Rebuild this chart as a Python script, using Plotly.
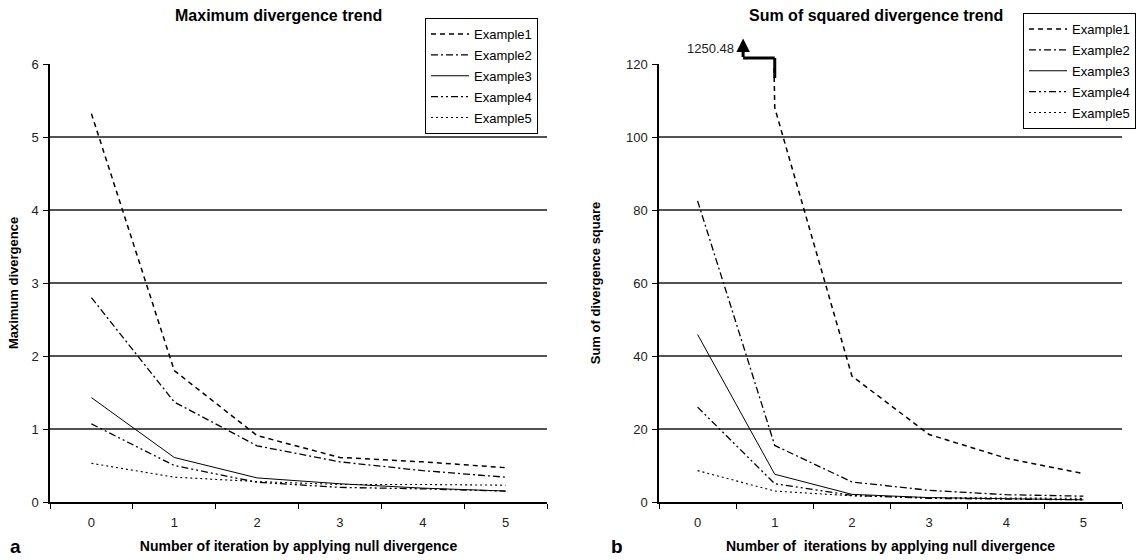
import plotly.graph_objects as go

W, H = 1142, 560

iterations = ["0", "1", "2", "3", "4", "5"]
series_names = ["Example1", "Example2", "Example3", "Example4", "Example5"]

# Panel a: maximum divergence
max_div_ex1 = [5.32, 1.80, 0.91, 0.61, 0.55, 0.47]
max_div_ex2 = [2.80, 1.37, 0.77, 0.55, 0.43, 0.34]
max_div_ex3 = [1.43, 0.61, 0.33, 0.25, 0.19, 0.15]
max_div_ex4 = [1.07, 0.50, 0.27, 0.20, 0.18, 0.15]
max_div_ex5 = [0.53, 0.34, 0.28, 0.24, 0.24, 0.23]

# Panel b: sum of squared divergence
sum_sq_ex1 = [1250.48, 108.0, 34.5, 18.5, 12.0, 7.8]
sum_sq_ex2 = [82.5, 15.5, 5.5, 3.2, 2.0, 1.6]
sum_sq_ex3 = [45.9, 7.6, 2.1, 1.2, 0.9, 0.6]
sum_sq_ex4 = [26.0, 5.0, 1.8, 1.0, 0.8, 0.6]
sum_sq_ex5 = [8.6, 3.0, 1.7, 1.2, 1.1, 1.0]

left_ticks = [0, 1, 2, 3, 4, 5, 6]
left_grid = [1, 2, 3, 4, 5]
right_ticks = [0, 20, 40, 60, 80, 100, 120]
right_grid = [20, 40, 60, 80, 100]

dash_styles = ["5px,4px", "7px,3px,2px,3px", "solid", "7px,3px,2px,3px,2px,3px", "2px,3px"]
line_widths = [1.5, 1.3, 1.0, 1.3, 1.1]

FONT = "Liberation Sans, Arial, sans-serif"

fig = go.Figure()

left_series = [max_div_ex1, max_div_ex2, max_div_ex3, max_div_ex4, max_div_ex5]
right_series = [sum_sq_ex1, sum_sq_ex2, sum_sq_ex3, sum_sq_ex4, sum_sq_ex5]

for i, (name, vals) in enumerate(zip(series_names, left_series)):
    fig.add_trace(go.Scatter(
        x=iterations, y=vals, name=name, mode="lines",
        line=dict(color="black", width=line_widths[i], dash=dash_styles[i]),
        xaxis="x", yaxis="y", legend="legend", legendgroup="a" + name,
    ))
for i, (name, vals) in enumerate(zip(series_names, right_series)):
    fig.add_trace(go.Scatter(
        x=iterations, y=vals, name=name, mode="lines",
        line=dict(color="black", width=line_widths[i], dash=dash_styles[i]),
        xaxis="x2", yaxis="y2", legend="legend2", legendgroup="b" + name,
    ))

xdom1 = [50 / W, 547 / W]
xdom2 = [659 / W, 1122 / W]
ydom = [58 / H, 496 / H]

common_x = dict(
    type="category", showline=True, linecolor="black", linewidth=1.5,
    ticks="outside", tickson="boundaries", ticklen=5, tickcolor="black",
    showgrid=False, zeroline=False, range=[-0.5, 5.5], ticklabelstandoff=8,
    tickfont=dict(family=FONT, size=13, color="#222"),
    title_font=dict(family=FONT, size=14, color="black"),
    title_standoff=12, automargin=False,
)
common_y = dict(
    showline=True, linecolor="black", linewidth=1.5,
    ticks="outside", ticklen=5, tickcolor="black",
    showgrid=False, zeroline=False, ticklabelstandoff=2,
    tickfont=dict(family=FONT, size=13, color="#222"),
    title_font=dict(family=FONT, size=13, color="black"), automargin=False,
)

legend_style = dict(xanchor="left", yanchor="top", bordercolor="black", borderwidth=1,
                    bgcolor="white", font=dict(family=FONT, size=13, color="black"),
                    tracegroupgap=1, itemwidth=38)

fig.update_layout(
    width=W, height=H,
    margin=dict(l=0, r=0, t=0, b=0),
    paper_bgcolor="white", plot_bgcolor="white",
    font=dict(family=FONT, color="black"),
    xaxis=dict(common_x, domain=xdom1, anchor="y",
               title_text="<b>Number of iteration by applying null divergence</b>"),
    yaxis=dict(common_y, domain=ydom, anchor="x", range=[0, 6], tickvals=left_ticks,
               title_text="<b>Maximum divergence</b>", title_standoff=10),
    xaxis2=dict(common_x, domain=xdom2, anchor="y2",
                title_text="<b>Number of  iterations by applying null divergence</b>"),
    yaxis2=dict(common_y, domain=ydom, anchor="x2", range=[0, 120], tickvals=right_ticks,
                title_text="<b>Sum of divergence square</b>", title_standoff=22),
    legend=dict(legend_style, x=425 / W, y=1 - 18 / H),
    legend2=dict(legend_style, x=1023 / W, y=1 - 13 / H),
    showlegend=True,
)

shapes = []
for v in left_grid:
    shapes.append(dict(type="line", xref="x domain", yref="y", x0=0, x1=1, y0=v, y1=v,
                       line=dict(color="#1a1a1a", width=1.3), layer="below"))
for v in right_grid:
    shapes.append(dict(type="line", xref="x2 domain", yref="y2", x0=0, x1=1, y0=v, y1=v,
                       line=dict(color="#1a1a1a", width=1.3), layer="below"))
# bracket pointing to the off-scale value
shapes.append(dict(type="line", xref="x2", yref="y2 domain", x0=1, x1=1, y0=0.968, y1=1.0137,
                   line=dict(color="black", width=3)))
shapes.append(dict(type="line", xref="x2", yref="y2 domain", x0=0.59, x1=1, y0=1.0137, y1=1.0137,
                   line=dict(color="black", width=3)))
fig.update_layout(shapes=shapes)

annotations = [
    dict(text="<b>Maximum divergence trend</b>", xref="paper", yref="paper",
         x=278 / W, y=1 - 15 / H, xanchor="center", yanchor="middle",
         showarrow=False, font=dict(family=FONT, size=16)),
    dict(text="<b>Sum of squared divergence trend</b>", xref="paper", yref="paper",
         x=876 / W, y=1 - 15 / H, xanchor="center", yanchor="middle",
         showarrow=False, font=dict(family=FONT, size=16)),
    dict(text="1250.48", xref="x2", yref="y2 domain", x=0.5, y=1.0365, xanchor="right",
         yanchor="middle", showarrow=False, font=dict(family=FONT, size=13, color="#222")),
    dict(text="", xref="x2", yref="y2 domain", x=0.59, y=1.058, ax=0, ay=20,
         showarrow=True, arrowhead=2, arrowsize=0.9, arrowwidth=3, arrowcolor="black"),
    dict(text="<b>a</b>", xref="paper", yref="paper", x=15 / W, y=1 - 546 / H,
         xanchor="center", yanchor="middle", showarrow=False, font=dict(family=FONT, size=19)),
    dict(text="<b>b</b>", xref="paper", yref="paper", x=617 / W, y=1 - 546 / H,
         xanchor="center", yanchor="middle", showarrow=False, font=dict(family=FONT, size=19)),
]
fig.update_layout(annotations=annotations)

fig.write_html("out.html", config={"displayModeBar": False},
               post_script="document.body.style.margin='0';")
